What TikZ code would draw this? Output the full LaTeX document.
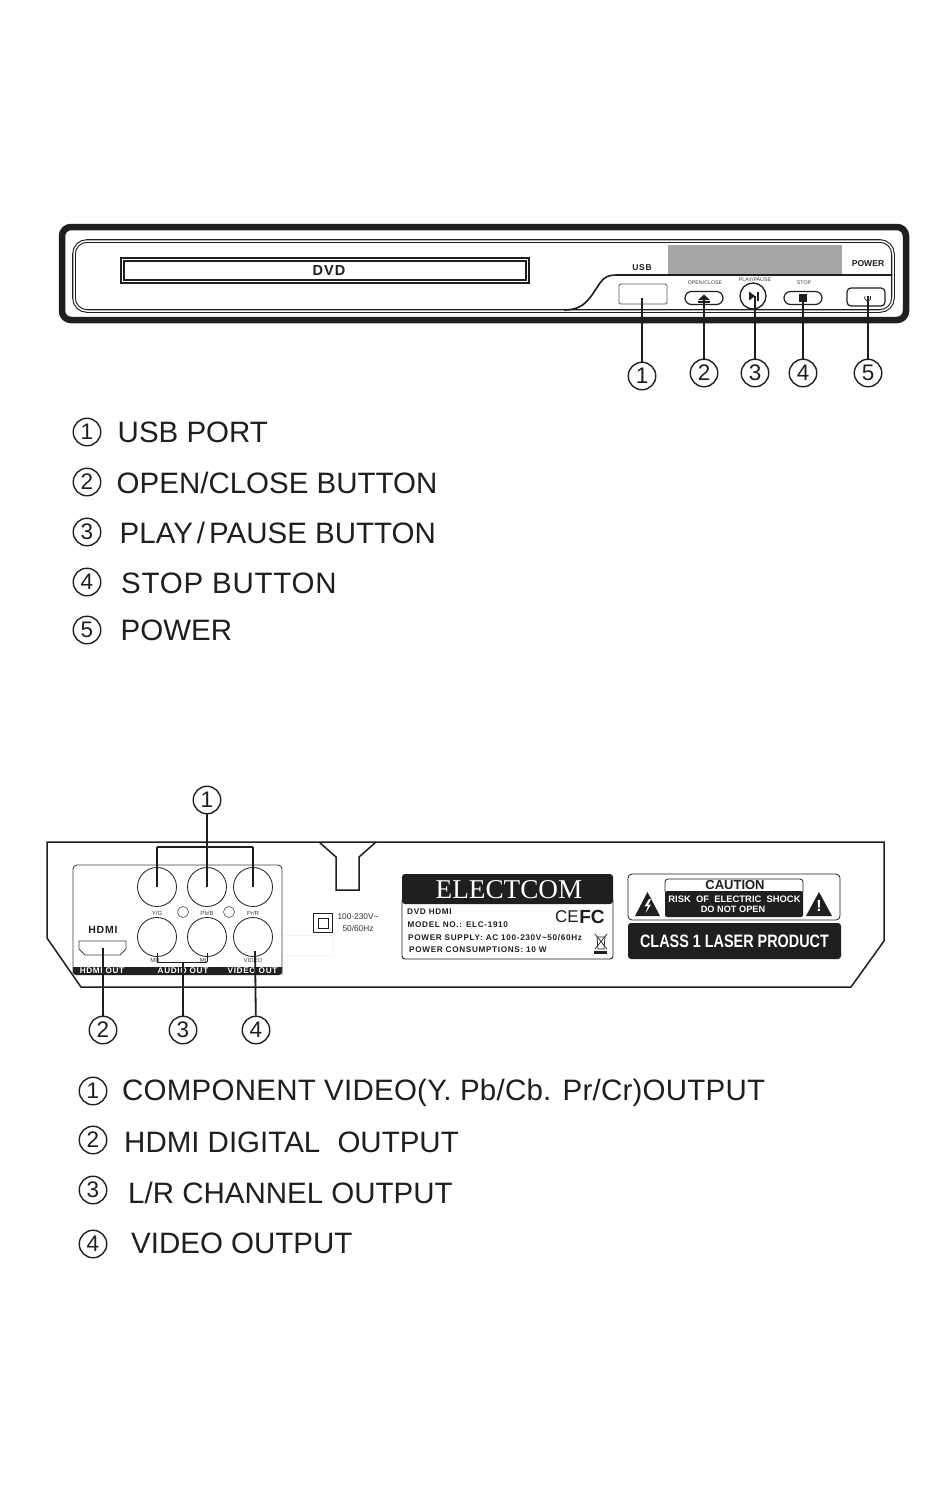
\documentclass[tikz,border=0pt]{standalone}
\usepackage{fontspec}
\setmainfont{Liberation Sans}
\newfontfamily\serifname{Liberation Serif}
\newfontfamily\condfont[FakeStretch=.8]{Liberation Sans}
\newfontfamily\widefont[LetterSpace=8]{Liberation Sans}
\newfontfamily\legendwide[LetterSpace=2.5]{Liberation Sans}
\newfontfamily\legendlong[LetterSpace=.8]{Liberation Sans}
\usetikzlibrary{arrows,shapes}
\definecolor{inkblack}{gray}{.12}
\tikzstyle{num}=[circle,draw=inkblack,line width=1.4pt,fill=white,minimum size=27.5pt,inner sep=0pt,font=\fontsize{22.5}{22}\selectfont,text=inkblack]
\tikzstyle{legend}=[anchor=west,inner sep=0pt,font=\fontsize{29.5}{30}\selectfont,text=inkblack]
\tikzstyle{edge}=[draw=inkblack,line width=1.8pt,-]
\tikzstyle{thin edge}=[draw=inkblack,line width=.9pt,-]
\tikzstyle{panel line}=[draw=inkblack,line width=1.1pt,double,double distance=1.5pt]
\tikzstyle{jack}=[circle,draw=inkblack,line width=.8pt,minimum size=39pt,inner sep=0pt]
\tikzstyle{tiny}=[inner sep=0pt,font=\fontsize{6}{6}\selectfont,text=black!75]
\tikzstyle{button}=[draw=inkblack,line width=1.2pt,minimum width=38pt,minimum height=13pt,inner sep=0pt]
\tikzstyle{label line}=[anchor=west,inner sep=0pt,font=\widefont\bfseries\fontsize{8.2}{9}\selectfont,text=inkblack]
\tikzstyle{strip}=[inner sep=0pt,text=white,font=\widefont\bfseries\fontsize{8.2}{8}\selectfont]
\begin{document}
\begin{tikzpicture}[x=1pt,y=-1pt]
        \useasboundingbox[fill=white] (0,0) rectangle (950,1507);
        % front panel
        \draw[inkblack,line width=6.5pt,rounded corners=9pt] (62,227) rectangle (906,320);
        \draw[panel line,rounded corners=13pt] (74,241) rectangle (893,311);
        \draw[inkblack,line width=1.6pt] (564,310) .. controls (580,310) and (586,303) .. (592,295) -- (600,283) .. controls (604,277) and (609,275) .. (616,275) -- (892,275);
        \fill[black!35] (668,245) rectangle (842,274);
        \node[draw=inkblack,line width=1.5pt,double,double distance=1.2pt,minimum width=405pt,minimum height=22pt,inner sep=0pt] (slot) at (325,270.5) {};
        \node[inner sep=0pt,font=\widefont\bfseries\fontsize{14.5}{14}\selectfont,text=inkblack] (dvd) at (329,271) {DVD};
        \node[inner sep=0pt,font=\widefont\bfseries\fontsize{8.5}{9}\selectfont,text=inkblack] (usblabel) at (642,268) {USB};
        \node[inner sep=0pt,font=\bfseries\fontsize{8.6}{10}\selectfont,text=inkblack] (powerlabel) at (868,264) {POWER};
        \node[draw=black!65,line width=.9pt,rounded corners=1.5pt,minimum width=48pt,minimum height=20pt,inner sep=0pt] (usb) at (643,294) {};
        \node[button,rounded corners=6.5pt] (open) at (704,298) {};
        \node[circle,draw=inkblack,line width=1.3pt,minimum size=26pt,inner sep=0pt] (play) at (753,296) {};
        \node[button,rounded corners=6.5pt] (stop) at (803,298) {};
        \node[button,rounded corners=4pt,minimum height=18pt] (power) at (866,297) {};
        \node[tiny,font=\fontsize{5.3}{6}\selectfont] (openlabel) at (705,283) {OPEN/CLOSE};
        \node[tiny,font=\fontsize{5.3}{6}\selectfont] (playlabel) at (755,280) {PLAY/PAUSE};
        \node[tiny,font=\fontsize{5.3}{6}\selectfont] (stoplabel) at (804,283) {STOP};
        \fill[inkblack] (704,294.5) -- (710,300) -- (698,300) -- cycle;
        \fill[inkblack] (698,301) rectangle (710,303);
        \fill[inkblack] (749,291.5) -- (755,296) -- (749,300.5) -- cycle;
        \fill[inkblack] (757,291.5) rectangle (759,300.5);
        \fill[inkblack] (799,294) rectangle (807,302);
        \draw[inkblack,line width=.7pt] (865,296) arc[start angle=150,end angle=390,radius=3.2pt];
        % front callouts
        \node[num] (a1) at (642,376) {1};
        \node[num] (a2) at (704,373) {2};
        \node[num] (a3) at (755,373) {3};
        \node[num] (a4) at (803,373) {4};
        \node[num] (a5) at (868,373) {5};
        \coordinate (p1) at (642,298);
        \coordinate (p2) at (704,296);
        \coordinate (p3) at (755,296);
        \coordinate (p4) at (803,298);
        \coordinate (p5) at (868,296);
        \draw[edge] (p1) to (a1);
        \draw[edge] (p2) to (a2);
        \draw[edge] (p3) to (a3);
        \draw[edge] (p4) to (a4);
        \draw[edge] (p5) to (a5);
        % front legend
        \node[num] (l1) at (87,432) {1};
        \node[num] (l2) at (87,482) {2};
        \node[num] (l3) at (87,532) {3};
        \node[num] (l4) at (87,582) {4};
        \node[num] (l5) at (87,630) {5};
        \node[legend] (t1) at (117.5,432) {USB PORT};
        \node[legend] (t2) at (116.5,483) {OPEN/CLOSE BUTTON};
        \node[legend] (t3) at (119.5,533) {PLAY\hspace{4pt}/\hspace{4pt}PAUSE BUTTON};
        \node[legend,font=\legendwide\fontsize{29.5}{30}\selectfont] (t4) at (121,583) {STOP BUTTON};
        \node[legend] (t5) at (120.5,630) {POWER};
        % rear panel
        \draw[inkblack,line width=1.5pt] (47,842) -- (884,842) -- (884,941) -- (851,987) -- (81,987) -- (47,938) -- cycle;
        \draw[inkblack,line width=1.5pt] (319,842) -- (336,857) -- (336,890) -- (359,890) -- (359,857) -- (376,842);
        \fill[inkblack,rounded corners=3pt] (73,960) -- (73,975) -- (282,975) -- (282,960) -- cycle;
        \fill[white] (72,955) rectangle (283,967);
        \draw[black!75,line width=.9pt,rounded corners=4pt] (73,975) -- (73,865) -- (282,865) -- (282,975);
        \node[strip] (hdmiout) at (102,971) {HDMI OUT};
        \node[strip] (audioout) at (183,971) {AUDIO OUT};
        \node[strip] (videoout) at (252.5,971) {VIDEO OUT};
        \node[jack] (yg) at (157,887) {};
        \node[jack] (pb) at (207,887) {};
        \node[jack] (pr) at (253,887) {};
        \node[jack] (mr) at (157,937) {};
        \node[jack] (ml) at (207,937) {};
        \node[jack] (video) at (253,937) {};
        \node[circle,draw=black!70,line width=.6pt,minimum size=11pt,inner sep=0pt] (ledl) at (183,912) {};
        \node[circle,draw=black!70,line width=.6pt,minimum size=11pt,inner sep=0pt] (ledr) at (229,912) {};
        \node[tiny] (yglabel) at (157,913) {Y/G};
        \node[tiny] (pblabel) at (207,913) {Pb/B};
        \node[tiny] (prlabel) at (253,913) {Pr/R};
        \node[tiny] (mrlabel) at (155,960) {MR};
        \node[tiny] (mllabel) at (204,960) {ML};
        \node[tiny] (videolabel) at (253,960) {VIDEO};
        \node[inner sep=0pt,font=\widefont\bfseries\fontsize{10.5}{10}\selectfont,text=inkblack] (hdmilogo) at (103,930) {HDMI};
        \draw[black!75,line width=.9pt] (79,941) -- (126,941) -- (126,949) -- (120,955) -- (85,955) -- (79,949) -- cycle;
        \node[draw=inkblack,line width=.9pt,minimum size=19pt,inner sep=0pt] (classout) at (323,923) {};
        \node[draw=inkblack,line width=.9pt,minimum size=10pt,inner sep=0pt] (classin) at (323,923) {};
        \node[inner sep=0pt,align=center,font=\fontsize{8.3}{12}\selectfont,text=black!80] (voltage) at (358,923) {100-230V\textasciitilde\\50/60Hz};
        \draw[black!4,line width=.6pt] (283,935) -- (333,935) -- (333,955) -- (283,955);
        % rating label
        \draw[inkblack,line width=.9pt,rounded corners=3pt] (402,900) -- (402,959) -- (613,959) -- (613,900);
        \fill[inkblack,rounded corners=3pt] (402,904) -- (402,874) -- (613,874) -- (613,904) -- cycle;
        \node[inner sep=0pt,text=white,font=\serifname\fontsize{27.2}{28}\selectfont] (brand) at (509,890) {ELECTCOM};
        \node[label line] (r1) at (407,912) {DVD HDMI};
        \node[label line] (r2) at (407.5,925) {MODEL NO.: ELC-1910};
        \node[label line] (r3) at (408,937.5) {POWER SUPPLY: AC 100-230V\textasciitilde50/60Hz};
        \node[label line] (r4) at (409,950) {POWER CONSUMPTIONS: 10 W};
        \node[inner sep=0pt,font=\fontsize{17}{17}\selectfont,text=inkblack] (ce) at (567,917) {CE};
        \node[inner sep=0pt,font=\bfseries\fontsize{19}{19}\selectfont,text=inkblack] (fc) at (592,917) {FC};
        \draw[inkblack,line width=.7pt] (597,937) -- (605,937) -- (604,949) -- (598,949) -- cycle;
        \draw[inkblack,line width=.7pt] (595,934) -- (607,949);
        \draw[inkblack,line width=.7pt] (607,934) -- (595,949);
        \fill[inkblack] (594,951) rectangle (607,954);
        % caution label
        \draw[inkblack,line width=.8pt,rounded corners=4pt] (628,874) rectangle (840,920);
        \fill[inkblack,rounded corners=2pt] (665,891) -- (665,917) -- (803,917) -- (803,891) -- cycle;
        \draw[inkblack,line width=.8pt,rounded corners=3pt] (665,892) -- (665,879) -- (803,879) -- (803,892);
        \node[inner sep=0pt,font=\bfseries\fontsize{13}{13}\selectfont,text=inkblack] (caution) at (735,885) {CAUTION};
        \node[inner sep=0pt,text=white,font=\bfseries\fontsize{9.4}{9}\selectfont] (risk) at (734.5,899) {RISK\ \ OF\ \ ELECTRIC\ \ SHOCK};
        \node[inner sep=0pt,text=white,font=\bfseries\fontsize{9.2}{9}\selectfont] (noopen) at (733,909.5) {DO NOT OPEN};
        \fill[inkblack] (647.5,892) -- (660,916) -- (635,916) -- cycle;
        \fill[white] (649,899) -- (644.5,906.5) -- (648,906) -- (645.5,913) -- (651,904.5) -- (648,905) -- (651,899) -- cycle;
        \fill[inkblack] (819,892) -- (832,916) -- (806,916) -- cycle;
        \node[inner sep=0pt,text=white,font=\bfseries\fontsize{16}{16}\selectfont] (warn) at (819,906) {!};
        \node[fill=inkblack,rounded corners=3pt,minimum width=213pt,minimum height=36pt,inner sep=0pt,text=white,font=\condfont\bfseries\fontsize{18}{18}\selectfont] (laser) at (734.5,941) {CLASS 1 LASER PRODUCT};
        % rear callouts
        \coordinate (q1) at (157,847);
        \coordinate (q2) at (253,847);
        \coordinate (q3) at (157,962);
        \coordinate (q4) at (207,962);
        \coordinate (q5) at (183,962);
        \coordinate (qh) at (103,948);
        \coordinate (qm) at (157,953);
        \coordinate (qn) at (207,953);
        \coordinate (qv) at (255,951);
        \node[num] (b1) at (207,800) {1};
        \node[num] (b2) at (103,1030) {2};
        \node[num] (b3) at (183,1030) {3};
        \node[num] (b4) at (256,1030) {4};
        \draw[edge] (b1) to (pb.center);
        \draw[edge] (yg.center) to (q1);
        \draw[edge] (q1) to (q2);
        \draw[edge] (q2) to (pr.center);
        \draw[edge] (qh) to (b2);
        \draw[thin edge] (qm) to (q3);
        \draw[thin edge] (q3) to (q4);
        \draw[thin edge] (q4) to (qn);
        \draw[edge] (q5) to (b3);
        \draw[edge] (qv) to (b4);
        % rear legend
        \node[num] (m1) at (93,1091) {1};
        \node[num] (m2) at (93,1140) {2};
        \node[num] (m3) at (93,1190) {3};
        \node[num] (m4) at (93,1244) {4};
        \node[legend,font=\legendlong\fontsize{29.5}{30}\selectfont] (u1) at (122,1093) {COMPONENT VIDEO(Y. Pb/Cb. Pr/Cr)OUTPUT};
        \node[legend] (u2) at (124,1142) {HDMI DIGITAL\hspace{9pt} OUTPUT};
        \node[legend] (u3) at (128,1193) {L/R CHANNEL OUTPUT};
        \node[legend] (u4) at (131,1243) {VIDEO OUTPUT};
      \end{tikzpicture}
\end{document}
